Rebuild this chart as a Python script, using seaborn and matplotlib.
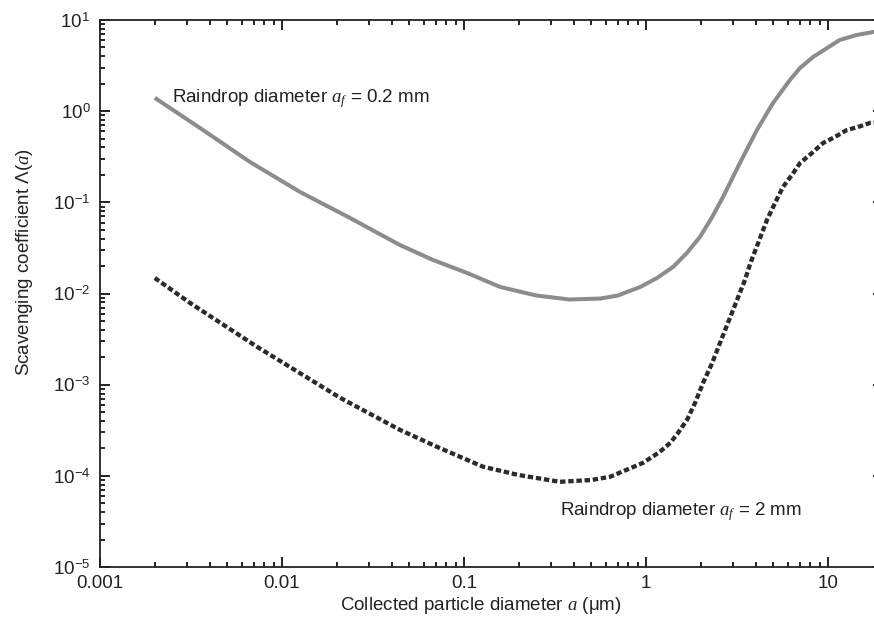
import matplotlib
matplotlib.use("Agg")
import matplotlib.pyplot as plt
import matplotlib.ticker as mticker
import numpy as np
import pandas as pd
import seaborn as sns

# Collected particle diameter (um) and scavenging coefficient for two raindrop sizes
small_drop_x = [0.002, 0.00354, 0.00667, 0.01256, 0.0236, 0.0445, 0.0676, 0.104,
                0.158, 0.25, 0.38, 0.56, 0.70, 0.93, 1.15, 1.41, 1.68, 1.98,
                2.31, 2.65, 3.28, 4.07, 4.99, 6.18, 7.02, 8.28, 9.88, 11.6,
                14.4, 17.7, 20.0]
small_drop_y = [1.40, 0.655, 0.277, 0.130, 0.0675, 0.034, 0.0233, 0.0168,
                0.0118, 0.0095, 0.0086, 0.0088, 0.0095, 0.0118, 0.0148, 0.0196,
                0.0279, 0.0418, 0.069, 0.1146, 0.270, 0.622, 1.23, 2.20, 2.98,
                3.93, 4.93, 6.04, 6.85, 7.38, 7.6]

large_drop_x = [0.002, 0.00312, 0.0073, 0.0208, 0.0445, 0.0711, 0.127, 0.2,
                0.336, 0.5, 0.634, 0.964, 1.19, 1.36, 1.50, 1.68, 1.86, 2.06,
                2.31, 2.55, 3.01, 3.28, 3.50, 3.73, 4.62, 5.11, 5.66, 6.34,
                7.02, 8.17, 9.4, 10.9, 12.7, 14.6, 17.0, 20.0]
large_drop_y = [0.0148, 0.00789, 0.0026, 7.2e-4, 3.19e-4, 2.08e-4, 1.26e-4,
                1.02e-4, 8.6e-5, 9.0e-5, 9.75e-5, 1.39e-4, 1.83e-4, 2.30e-4,
                2.96e-4, 4.11e-4, 6.3e-4, 1.05e-3, 1.73e-3, 2.87e-3, 6.6e-3,
                0.0102, 0.0141, 0.021, 0.0641, 0.098, 0.1476, 0.20, 0.270,
                0.348, 0.448, 0.52, 0.622, 0.67, 0.743, 0.76]

x_ticks = [0.001, 0.01, 0.1, 1, 10]
x_tick_labels = ["0.001", "0.01", "0.1", "1", "10"]
y_ticks = [1e-5, 1e-4, 1e-3, 1e-2, 1e-1, 1e0, 1e1]
y_tick_labels = [r"$10^{-5}$", r"$10^{-4}$", r"$10^{-3}$", r"$10^{-2}$",
                 r"$10^{-1}$", r"$10^{0}$", r"$10^{1}$"]

sns.set_style("white")
plt.rcParams["font.family"] = ["Liberation Sans", "DejaVu Sans"]
plt.rcParams["mathtext.fontset"] = "custom"
plt.rcParams["mathtext.rm"] = "Liberation Sans"
plt.rcParams["mathtext.it"] = "Liberation Serif:italic"
plt.rcParams["mathtext.bf"] = "Liberation Sans:bold"
plt.rcParams["axes.axisbelow"] = False

TEXT = "#222222"
FS = 13.5

fig = plt.figure(figsize=(8.74, 6.21), dpi=100)
W, H = 874, 621
ax_left, ax_top, ax_bottom = 100, 20, 567
ax_right = 100 + 182 * np.log10(20 / 0.001)
ax = fig.add_axes([ax_left / W, (H - ax_bottom) / H,
                   (ax_right - ax_left) / W, (ax_bottom - ax_top) / H])

small_df = pd.DataFrame({"a": small_drop_x, "lam": small_drop_y})
large_df = pd.DataFrame({"a": large_drop_x, "lam": large_drop_y})

sns.lineplot(data=small_df, x="a", y="lam", ax=ax, color="#8c8c8c",
             linewidth=2.9, sort=True, estimator=None)
sns.lineplot(data=large_df, x="a", y="lam", ax=ax, color="#2b2b2b",
             linewidth=3.1, sort=True, estimator=None)
ax.lines[0].set_solid_capstyle("butt")
ax.lines[0].set_solid_joinstyle("round")
ax.lines[1].set_dashes((1.25, 0.65))
ax.lines[1].set_dash_capstyle("butt")

ax.set_xscale("log")
ax.set_yscale("log")
ax.set_xlim(0.001, 20)
ax.set_ylim(1e-5, 1e1)

ax.set_xticks(x_ticks)
ax.set_xticklabels(x_tick_labels)
ax.set_yticks(y_ticks)
ax.set_yticklabels(y_tick_labels)

# Minor ticks at 2..9 within every decade
minor_mult = np.arange(2, 10)
x_minor = [m * 10.0 ** e for e in range(-3, 2) for m in minor_mult]
y_minor = [m * 10.0 ** e for e in range(-5, 1) for m in minor_mult]
ax.xaxis.set_minor_locator(mticker.FixedLocator(x_minor))
ax.yaxis.set_minor_locator(mticker.FixedLocator(y_minor))
ax.xaxis.set_minor_formatter(mticker.NullFormatter())
ax.yaxis.set_minor_formatter(mticker.NullFormatter())

ax.tick_params(which="both", direction="in", top=True, right=True,
               bottom=True, left=True, color="#222222", labelcolor=TEXT,
               labelsize=FS, width=1.4)
ax.tick_params(which="major", length=7.4)
ax.tick_params(which="minor", length=3.8)
ax.tick_params(axis="x", which="major", pad=6)
ax.tick_params(axis="y", which="major", pad=7)

for side in ["left", "bottom", "top", "right"]:
    ax.spines[side].set_visible(True)
    ax.spines[side].set_linewidth(1.3)
    ax.spines[side].set_color("#222222")

ax.set_xlabel("")
ax.set_ylabel("")
fig.text(481 / W, 1 - 610 / H, r"Collected particle diameter $a$ (μm)",
         ha="center", va="baseline", fontsize=FS, color=TEXT)
fig.text(25 / W, 1 - 262 / H, r"Scavenging coefficient $\mathit{\Lambda}(a)$",
         ha="center", va="center", rotation=90, fontsize=FS, color=TEXT)

ax.text(0.00249, 1.26, r"Raindrop diameter $a_f$ = 0.2 mm",
        ha="left", va="baseline", fontsize=FS, color=TEXT)
ax.text(0.337, 3.73e-5, r"Raindrop diameter $a_f$ = 2 mm",
        ha="left", va="baseline", fontsize=FS, color=TEXT)

fig.savefig("out.png", dpi=100, facecolor="white")
